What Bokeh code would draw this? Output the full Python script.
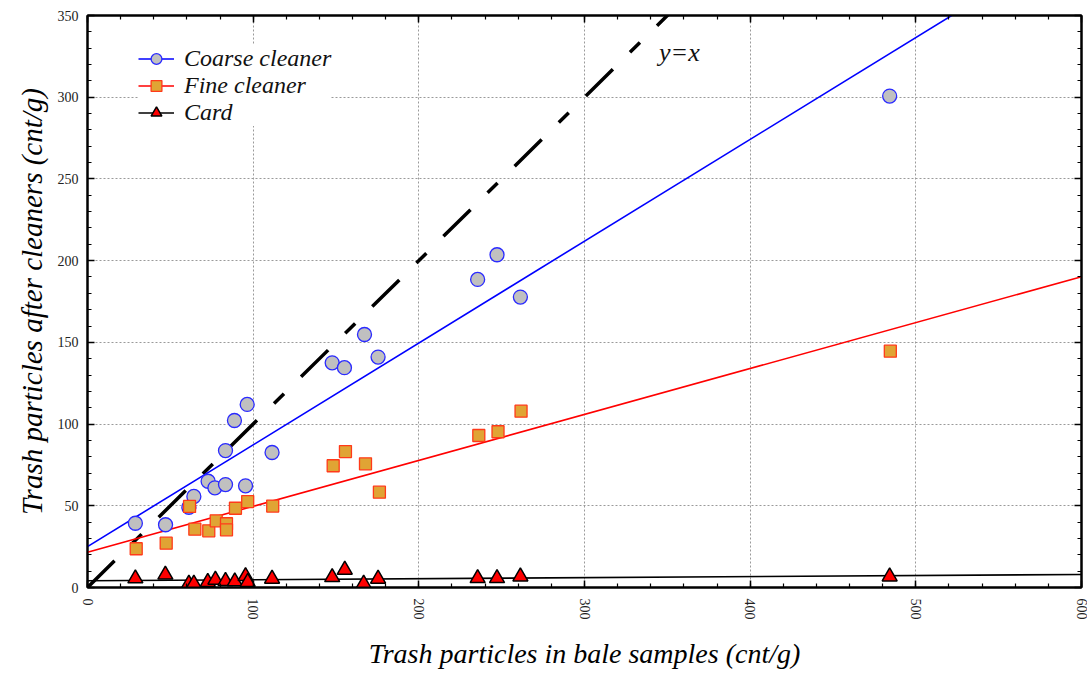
from bokeh.plotting import figure
from bokeh.models import Range1d, LinearAxis, Legend, LegendItem, SingleIntervalTicker
from bokeh.core.properties import value
from bokeh.embed import file_html
from bokeh.resources import INLINE
import numpy as np

# ---- data ----
coarse_x = [28.9, 47.1, 61.2, 64.2, 72.8, 76.9, 83.3, 83.3, 88.7, 95.4, 96.4, 111.4,
            147.7, 155.1, 167.2, 175.4, 235.5, 247.2, 261.3, 484.2]
coarse_y = [39.3, 38.4, 49.1, 55.7, 65.0, 61.0, 63.0, 83.8, 102.2, 62.2, 112.0, 82.6,
            137.5, 134.5, 154.8, 141.0, 188.5, 203.6, 177.7, 300.7]

fine_x = [29.4, 47.5, 61.6, 64.8, 73.2, 77.7, 83.9, 83.9, 89.3, 96.7, 111.8,
          148.3, 155.7, 167.8, 176.2, 236.2, 247.8, 261.7, 484.6]
fine_y = [23.7, 27.1, 49.6, 35.7, 34.7, 40.8, 39.0, 35.3, 48.5, 52.6, 49.8,
          74.5, 83.2, 75.7, 58.3, 93.0, 95.3, 107.9, 144.6]

card_x = [28.9, 47.0, 61.2, 64.2, 72.6, 77.2, 83.3, 88.9, 95.4, 96.7, 111.4,
          147.7, 155.3, 166.7, 175.4, 235.5, 247.2, 261.3, 484.2]
card_y = [5.5, 7.8, 2.3, 2.3, 3.3, 4.7, 3.9, 3.7, 6.9, 3.3, 5.3,
          6.3, 10.8, 2.3, 5.3, 5.7, 5.7, 6.7, 6.7]

# linear fits (intercept, slope)
coarse_fit = [25.0, 0.623]
fine_fit = [21.6, 0.281]
card_fit = [4.1, 0.0065]

fit_x = [0, 600]
identity_x = [0, 600]
identity_label = "y=x"
identity_label_pos = [345.0, 327.5]

series_names = ["Coarse cleaner", "Fine cleaner", "Card"]
x_label = "Trash particles in bale samples (cnt/g)"
y_label = "Trash particles after cleaners (cnt/g)"
x_ticks = [0, 100, 200, 300, 400, 500, 600]
y_ticks = [0, 50, 100, 150, 200, 250, 300, 350]

SERIF = "Liberation Serif"

p = figure(frame_width=994, frame_height=572,
           min_border_left=87, min_border_top=15, min_border_right=6, min_border_bottom=70,
           x_range=Range1d(0, 600), y_range=Range1d(0, 350),
           output_backend="svg", toolbar_location=None, tools="")
p.outline_line_color = "black"
p.outline_line_width = 2
p.background_fill_color = "white"

# grids
for g in (p.xgrid, p.ygrid):
    g.grid_line_color = "#9a9a9a"
    g.grid_line_dash = "2 2"
    g.grid_line_width = 1
p.xgrid.ticker = x_ticks
p.ygrid.ticker = y_ticks


def style_axis(ax, labels=True):
    ax.axis_line_color = "black"
    ax.axis_line_width = 2
    ax.major_tick_in = 7
    ax.major_tick_out = 0
    ax.minor_tick_in = 4
    ax.minor_tick_out = 0
    ax.major_tick_line_width = 1.5
    ax.minor_tick_line_width = 1.2
    ax.major_label_text_font = SERIF
    ax.major_label_text_font_size = "14px"
    ax.major_label_text_color = "#222222"
    if not labels:
        ax.major_label_text_color = None
        ax.major_label_text_font_size = "1px"
        ax.major_label_standoff = 0


p.xaxis.ticker = SingleIntervalTicker(interval=100, num_minor_ticks=5)
p.yaxis.ticker = SingleIntervalTicker(interval=50, num_minor_ticks=5)
style_axis(p.xaxis[0])
style_axis(p.yaxis[0])
p.xaxis.major_label_orientation = "vertical"
p.xaxis.major_label_standoff = 11
p.yaxis.major_label_standoff = 9

for ax in (p.xaxis[0], p.yaxis[0]):
    ax.axis_label_text_font = SERIF
    ax.axis_label_text_font_style = "italic"
    ax.axis_label_text_color = "black"
p.xaxis.axis_label_text_font_size = "28px"
p.yaxis.axis_label_text_font_size = "29px"
p.xaxis.axis_label = x_label
p.yaxis.axis_label = y_label
p.xaxis.axis_label_standoff = 15
p.yaxis.axis_label_standoff = 7

top = LinearAxis(ticker=SingleIntervalTicker(interval=100, num_minor_ticks=5))
right = LinearAxis(ticker=SingleIntervalTicker(interval=50, num_minor_ticks=5))
style_axis(top, labels=False)
style_axis(right, labels=False)
p.add_layout(top, "above")
p.add_layout(right, "right")

fx = np.array(fit_x, dtype=float)

# identity line
p.line(identity_x, identity_x, line_color="black", line_width=3.5,
       line_dash="38 24 14 24")

# fits
l1 = p.line(fx, coarse_fit[0] + coarse_fit[1] * fx, line_color="#0000ff", line_width=1.6)
l2 = p.line(fx, fine_fit[0] + fine_fit[1] * fx, line_color="#ff0000", line_width=1.6)
l3 = p.line(fx, card_fit[0] + card_fit[1] * fx, line_color="black", line_width=1.6)

# markers
s1 = p.scatter(coarse_x, coarse_y, marker="circle", size=14, fill_color="#c0c0c0",
               line_color="#2a2aff", line_width=1.3)
s2 = p.scatter(fine_x, fine_y, marker="square", size=12, fill_color="#e0a434",
               line_color="#ff3a1a", line_width=1.3)
s3 = p.scatter(card_x, card_y, marker="triangle", size=15, fill_color="#ff0000",
               line_color="black", line_width=1.5)

p.text(x=[identity_label_pos[0]], y=[identity_label_pos[1]], text=[identity_label],
       text_font=value(SERIF), text_font_style="italic", text_font_size="26px",
       text_baseline="middle", text_align="left", text_color="#111111")

legend = Legend(items=[LegendItem(label=series_names[0], renderers=[l1, s1]),
                       LegendItem(label=series_names[1], renderers=[l2, s2]),
                       LegendItem(label=series_names[2], renderers=[l3, s3])],
                location=(51, 461))
legend.border_line_color = None
legend.background_fill_color = "white"
legend.background_fill_alpha = 1.0
legend.label_text_font = SERIF
legend.label_text_font_style = "italic"
legend.label_text_font_size = "24px"
legend.label_text_color = "#111111"
legend.glyph_width = 36
legend.glyph_height = 27
legend.label_height = 27
legend.label_standoff = 10
legend.spacing = 0
legend.padding = 6
legend.margin = 0
p.add_layout(legend, "center")

open("out.html", "w").write(file_html(p, INLINE))
